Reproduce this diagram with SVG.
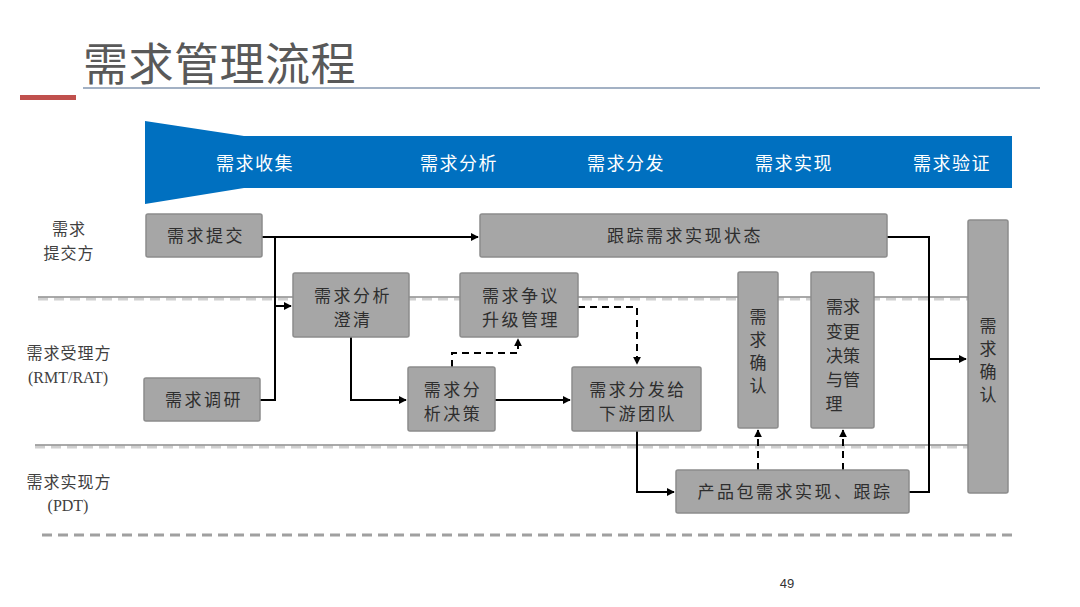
<svg xmlns="http://www.w3.org/2000/svg" width="1080" height="607" viewBox="0 0 1080 607">
<defs>
<style>
.box{fill:#a6a6a6;stroke:#8c8c8c;stroke-width:1.5}
.bt{font-family:"Noto Sans CJK SC","Noto Sans",sans-serif;font-size:17px;fill:#2e2e2e;text-anchor:middle;letter-spacing:2.5px}
.vt{font-family:"Noto Sans CJK SC","Noto Sans",sans-serif;font-size:17px;fill:#2e2e2e;text-anchor:middle}
.lane{font-family:"Noto Sans CJK SC","Noto Sans",sans-serif;font-size:16px;fill:#404040;text-anchor:middle;letter-spacing:1px}
.lanel{font-family:"Liberation Serif",serif;font-size:16px;fill:#404040;text-anchor:middle}
.band{font-family:"Noto Sans CJK SC","Noto Sans",sans-serif;font-size:18px;fill:#fff;text-anchor:middle;letter-spacing:1.5px}
.c{fill:none;stroke:#000;stroke-width:2}
.d{fill:none;stroke:#000;stroke-width:2;stroke-dasharray:7 5}
</style>
<marker id="ah" viewBox="0 0 10 10" refX="9" refY="5" markerWidth="4" markerHeight="4" orient="auto" markerUnits="strokeWidth">
<path d="M0,0 L10,5 L0,10 z" fill="#000"/>
</marker>
</defs>
<rect width="1080" height="607" fill="#fff"/>

<!-- title -->
<g id="title">
<text x="83" y="81" font-family="'Noto Sans CJK SC','Noto Sans',sans-serif" font-size="45" fill="#595959" letter-spacing="0.5">需求管理流程</text>
<line x1="83" y1="88" x2="1040" y2="88" stroke="#8497b0" stroke-width="1.5"/>
<rect x="20" y="95" width="56" height="5" fill="#c0504d"/>
</g>

<!-- phase banner -->
<g id="banner">
<polygon points="145,121 244,136 1012,136 1012,188 244,188 145,204" fill="#0070c0"/>
<text class="band" x="255" y="170">需求收集</text>
<text class="band" x="459" y="170">需求分析</text>
<text class="band" x="626" y="170">需求分发</text>
<text class="band" x="794" y="170">需求实现</text>
<text class="band" x="952" y="170">需求验证</text>
</g>

<!-- swimlane separators -->
<g id="lanes">
<line x1="38" y1="299" x2="968" y2="299" stroke="#d0d0d0" stroke-width="3" stroke-dasharray="10 6"/>
<line x1="38" y1="297" x2="968" y2="297" stroke="#8c8c8c" stroke-width="1.5"/>
<line x1="35" y1="447" x2="968" y2="447" stroke="#d0d0d0" stroke-width="3" stroke-dasharray="10 6"/>
<line x1="35" y1="445" x2="968" y2="445" stroke="#8c8c8c" stroke-width="1.5"/>
<line x1="42" y1="535" x2="1012" y2="535" stroke="#a0a0a0" stroke-width="3" stroke-dasharray="10 6"/>
<text class="lane" x="69" y="235">需求</text>
<text class="lane" x="69" y="259">提交方</text>
<text class="lane" x="69" y="359">需求受理方</text>
<text class="lanel" x="68" y="383">(RMT/RAT)</text>
<text class="lane" x="69" y="488">需求实现方</text>
<text class="lanel" x="68" y="511">(PDT)</text>
</g>

<!-- connectors -->
<g id="connectors">
<path class="c" d="M262,237 H478" marker-end="url(#ah)"/>
<path class="c" d="M275,237 V400 H260"/>
<path class="c" d="M275,306 H291" marker-end="url(#ah)"/>
<path class="c" d="M351,337 V400 H406" marker-end="url(#ah)"/>
<path class="c" d="M495,400 H570" marker-end="url(#ah)"/>
<path class="c" d="M637,431 V492 H674" marker-end="url(#ah)"/>
<path class="c" d="M887,237 H929 V492 H909"/>
<path class="c" d="M929,359 H966" marker-end="url(#ah)"/>
<path class="d" d="M578,307 H637 V364" marker-end="url(#ah)"/>
<path class="d" d="M452,367 V353 H518 V339" marker-end="url(#ah)"/>
<path class="d" d="M758,470 V430" marker-end="url(#ah)"/>
<path class="d" d="M843,470 V430" marker-end="url(#ah)"/>
</g>

<!-- nodes -->
<g id="n_submit"><rect class="box" x="146" y="214" width="116" height="43" rx="2"/><text class="bt" x="206" y="242">需求提交</text></g>
<g id="n_track"><rect class="box" x="480" y="214" width="407" height="43" rx="2"/><text class="bt" x="685" y="242">跟踪需求实现状态</text></g>
<g id="n_clarify"><rect class="box" x="293" y="273" width="116" height="64" rx="2"/><text class="bt" x="353" y="302">需求分析</text><text class="bt" x="353" y="326">澄清</text></g>
<g id="n_dispute"><rect class="box" x="460" y="273" width="118" height="64" rx="2"/><text class="bt" x="521" y="302">需求争议</text><text class="bt" x="521" y="326">升级管理</text></g>
<g id="n_research"><rect class="box" x="144" y="378" width="116" height="43" rx="2"/><text class="bt" x="204" y="406">需求调研</text></g>
<g id="n_decide"><rect class="box" x="408" y="367" width="87" height="64" rx="2"/><text class="bt" x="453" y="396">需求分</text><text class="bt" x="453" y="420">析决策</text></g>
<g id="n_dispatch"><rect class="box" x="572" y="367" width="129" height="64" rx="2"/><text class="bt" x="638" y="396">需求分发给</text><text class="bt" x="638" y="420">下游团队</text></g>
<g id="n_confirm1"><rect class="box" x="738" y="272" width="40" height="156" rx="2"/>
<text class="vt" x="758" y="323">需</text><text class="vt" x="758" y="346">求</text><text class="vt" x="758" y="369">确</text><text class="vt" x="758" y="392">认</text></g>
<g id="n_change"><rect class="box" x="811" y="272" width="63" height="156" rx="2"/>
<text class="vt" x="843" y="313">需求</text><text class="vt" x="843" y="338">变更</text><text class="vt" x="843" y="362">决策</text><text class="vt" x="843" y="386">与管</text><text class="vt" x="834" y="410">理</text></g>
<g id="n_pdt"><rect class="box" x="676" y="470" width="233" height="43" rx="2"/><text class="bt" x="795" y="498">产品包需求实现、跟踪</text></g>
<g id="n_confirm2"><rect class="box" x="968" y="220" width="40" height="273" rx="2"/>
<text class="vt" x="988" y="332">需</text><text class="vt" x="988" y="355">求</text><text class="vt" x="988" y="378">确</text><text class="vt" x="988" y="401">认</text></g>

<text x="787" y="588" font-family="'Liberation Sans',sans-serif" font-size="13" fill="#333" text-anchor="middle">49</text>
</svg>
